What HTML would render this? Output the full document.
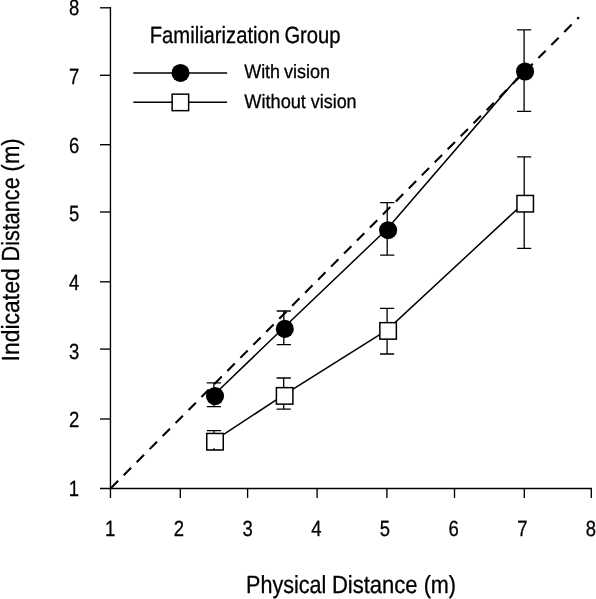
<!DOCTYPE html>
<html><head><meta charset="utf-8"><title>Figure</title>
<style>
html,body{margin:0;padding:0;background:#fff;}
body{width:596px;height:599px;overflow:hidden;font-family:"Liberation Sans",sans-serif;}
svg{display:block;will-change:transform;}
text{font-family:"Liberation Sans",sans-serif;fill:#000;text-rendering:geometricPrecision;stroke:#000;stroke-width:0.3px;stroke-linejoin:round;}
</style></head><body>
<svg width="596" height="599" viewBox="0 0 596 599">
<rect width="596" height="599" fill="#fff"/>

<g stroke="#000" stroke-width="1.35" fill="none" stroke-linecap="butt">
<path d="M110.45 7.1V497.9"/>
<path d="M100 488.45H592.0"/>
<path d="M180.3 488.45V497.9"/>
<path d="M247.6 488.45V497.9"/>
<path d="M317.1 488.45V497.9"/>
<path d="M386.9 488.45V497.9"/>
<path d="M454.5 488.45V497.9"/>
<path d="M524.3 488.45V497.9"/>
<path d="M591.3 488.45V497.9"/>
<path d="M100 7.8H110.45"/>
<path d="M100 75.3H110.45"/>
<path d="M100 144.7H110.45"/>
<path d="M100 212.0H110.45"/>
<path d="M100 281.8H110.45"/>
<path d="M100 349.1H110.45"/>
<path d="M100 419.0H110.45"/>
</g>
<path d="M110.6 488.4L579.0 17.2" stroke="#000" stroke-width="2.1" stroke-dasharray="10.4 7.98" stroke-dashoffset="-0.25" fill="none"/>
<path d="M213.5 395.2L283.4 328.0L386.8 229.3L523.7 70.6" stroke="#000" stroke-width="1.5" fill="none"/>
<path d="M213.8 440.9L283.5 395.1L386.9 330.1L524.0 202.9" stroke="#000" stroke-width="1.5" fill="none"/>
<g stroke="#000" stroke-width="1.3" fill="none">
<path d="M213.9 382.8V406.7M206.8 382.8H221.0M206.8 406.7H221.0"/>
<path d="M283.8 311.0V344.6M276.7 311.0H290.9M276.7 344.6H290.9"/>
<path d="M387.2 202.7V255.2M380.1 202.7H394.3M380.1 255.2H394.3"/>
<path d="M524.1 29.9V111.4M517.0 29.9H531.2M517.0 111.4H531.2"/>
<path d="M214.0 430.7V449.6M206.9 430.7H221.1M206.9 449.6H221.1"/>
<path d="M283.7 378.0V409.1M276.6 378.0H290.8M276.6 409.1H290.8"/>
<path d="M387.1 308.4V354.0M380.0 308.4H394.2M380.0 354.0H394.2"/>
<path d="M524.2 156.9V248.3M517.1 156.9H531.3M517.1 248.3H531.3"/>
</g>
<circle cx="215.0" cy="396.1" r="9.05" fill="#000"/>
<circle cx="284.8" cy="328.9" r="9.05" fill="#000"/>
<circle cx="388.1" cy="230.2" r="9.05" fill="#000"/>
<circle cx="525.05" cy="71.5" r="9.05" fill="#000"/>
<rect x="206.75" y="433.45" width="16.5" height="16.5" fill="#fff" stroke="#000" stroke-width="1.5"/>
<rect x="276.40" y="387.65" width="16.5" height="16.5" fill="#fff" stroke="#000" stroke-width="1.5"/>
<rect x="379.85" y="322.65" width="16.5" height="16.5" fill="#fff" stroke="#000" stroke-width="1.5"/>
<rect x="516.95" y="195.45" width="16.5" height="16.5" fill="#fff" stroke="#000" stroke-width="1.5"/>
<path d="M214.0 448.2V450" stroke="#000" stroke-width="1.5"/>
<g stroke="#000" stroke-width="1.5"><path d="M133.3 72.9H227.1"/><path d="M133.3 102.2H227.1"/></g>
<circle cx="180.5" cy="72.95" r="9.05" fill="#000"/>
<rect x="172.15" y="94.15" width="16.5" height="16.5" fill="#fff" stroke="#000" stroke-width="1.5"/>
<text transform="translate(149.74 43.00) scale(0.8599 1)" font-size="23.5">Familiarization</text>
<text transform="translate(284.38 43.00) scale(0.8599 1)" font-size="23.5">Group</text>
<text transform="translate(244.22 78.00) scale(0.9310 1)" font-size="19.25">With</text>
<text transform="translate(283.94 78.00) scale(0.9374 1)" font-size="19.25">vision</text>
<text transform="translate(244.22 108.00) scale(0.9335 1)" font-size="19.5">Without</text>
<text transform="translate(310.74 108.00) scale(0.9192 1)" font-size="19.5">vision</text>
<text transform="translate(246.03 593.00) scale(0.8703 1)" font-size="24.75">Physical</text>
<text transform="translate(331.89 593.00) scale(0.8898 1)" font-size="24.75">Distance</text>
<text transform="translate(423.66 593.00) scale(0.8727 1)" font-size="24.75">(m)</text>
<text transform="translate(18.60 361.42) rotate(-90) scale(0.9278 1)" font-size="24.75">Indicated</text>
<text transform="translate(18.60 261.47) rotate(-90) scale(0.8737 1)" font-size="24.75">Distance</text>
<text transform="translate(18.60 171.47) rotate(-90) scale(0.8933 1)" font-size="24.75">(m)</text>
<text transform="translate(104.91 536.00) scale(0.84 1)" font-size="22.0">1</text>
<text transform="translate(173.83 536.00) scale(0.84 1)" font-size="22.0">2</text>
<text transform="translate(242.56 536.00) scale(0.84 1)" font-size="22.0">3</text>
<text transform="translate(311.23 536.00) scale(0.84 1)" font-size="22.0">4</text>
<text transform="translate(379.86 536.00) scale(0.84 1)" font-size="22.0">5</text>
<text transform="translate(448.45 536.00) scale(0.84 1)" font-size="22.0">6</text>
<text transform="translate(517.17 536.00) scale(0.84 1)" font-size="22.0">7</text>
<text transform="translate(585.85 536.00) scale(0.84 1)" font-size="22.0">8</text>
<text transform="translate(69.06 15.00) scale(0.84 1)" font-size="22.0">8</text>
<text transform="translate(69.05 84.00) scale(0.84 1)" font-size="22.0">7</text>
<text transform="translate(69.00 153.00) scale(0.84 1)" font-size="22.0">6</text>
<text transform="translate(69.08 221.00) scale(0.84 1)" font-size="22.0">5</text>
<text transform="translate(69.12 290.00) scale(0.84 1)" font-size="22.0">4</text>
<text transform="translate(69.12 359.00) scale(0.84 1)" font-size="22.0">3</text>
<text transform="translate(69.06 427.00) scale(0.84 1)" font-size="22.0">2</text>
<text transform="translate(68.81 496.00) scale(0.84 1)" font-size="22.0">1</text>
</svg></body></html>
